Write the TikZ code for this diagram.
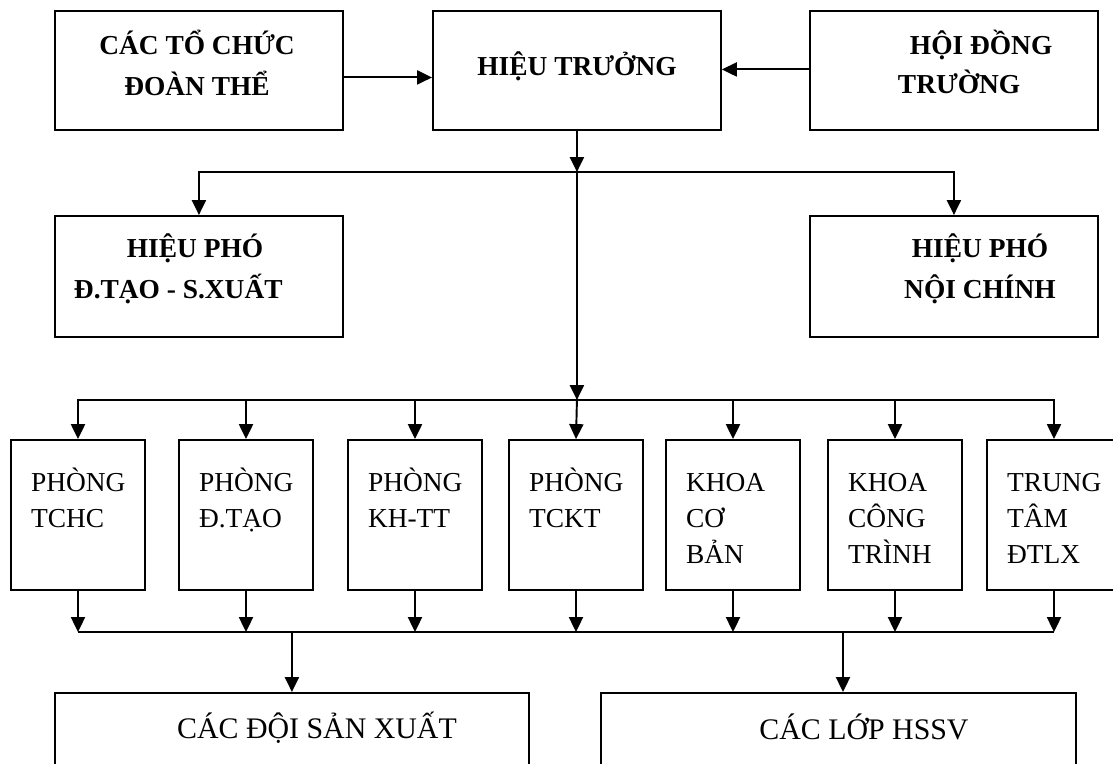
\documentclass[tikz,border=0pt]{standalone}
\usepackage{fontspec}
\setmainfont{Liberation Serif}
\usetikzlibrary{positioning,arrows.meta,calc}

\begin{document}
\begin{tikzpicture}[
      x=0.02cm, y=-0.02cm,
      font=\fontsize{15.6}{20.5}\selectfont,
      line width=1.1pt,
      box/.style={draw, minimum width=5.76cm, minimum height=2.38cm, inner sep=0pt, anchor=north west},
      unit/.style={draw, minimum width=2.68cm, minimum height=3cm, inner sep=0pt},
      lbl/.style={inner sep=0pt, font=\fontsize{15.6}{20.5}\selectfont\bfseries},
      txt/.style={inner sep=0pt, anchor=base west, text width=2.4cm, align=left},
      big/.style={inner sep=0pt, anchor=base, font=\fontsize{17}{20.5}\selectfont},
      arrow/.style={-{Triangle[length=8.5pt, width=8pt]}},
    ]
      \useasboundingbox (0,0) rectangle (1113,764);

      \node[box] (doan) at (54,10) {};
      \node[box] (ht) at (432,10) {};
      \node[box] (hdt) at (809,10) {};
      \node[box, minimum height=2.42cm] (hpdt) at (54,215) {};
      \node[box, minimum height=2.42cm] (hpnc) at (809,215) {};

      \node[lbl, anchor=base] (doan1) at (197,54) {CÁC TỔ CHỨC};
      \node[lbl, anchor=base] (doan2) at (197,95) {ĐOÀN THỂ};
      \node[lbl, anchor=base] (ht1) at (577,75) {HIỆU TRƯỞNG};
      \node[lbl, anchor=base west] (hdt1) at (909,54) {HỘI ĐỒNG};
      \node[lbl, anchor=base west] (hdt2) at (897,93) {TRƯỜNG};
      \node[lbl, anchor=base] (hpdt1) at (195,257) {HIỆU PHÓ};
      \node[lbl, anchor=base west] (hpdt2) at (73,298) {Đ.TẠO - S.XUẤT};
      \node[lbl, anchor=base] (hpnc1) at (980,257) {HIỆU PHÓ};
      \node[lbl, anchor=base] (hpnc2) at (980,298) {NỘI CHÍNH};

      \node[unit] (tchc) at (78,515) {};
      \node[unit] (dtao) at (246,515) {};
      \node[unit] (khtt) at (415,515) {};
      \node[unit] (tckt) at (576,515) {};
      \node[unit] (kcb) at (733,515) {};
      \node[unit] (kct) at (895,515) {};
      \node[unit] (ttdt) at (1054,515) {};

      \node[txt] (tchc-t) at ($(tchc.north west)+(20,52)$) {PHÒNG\\TCHC};
      \node[txt] (dtao-t) at ($(dtao.north west)+(20,52)$) {PHÒNG\\Đ.TẠO};
      \node[txt] (khtt-t) at ($(khtt.north west)+(20,52)$) {PHÒNG\\KH-TT};
      \node[txt] (tckt-t) at ($(tckt.north west)+(20,52)$) {PHÒNG\\TCKT};
      \node[txt] (kcb-t) at ($(kcb.north west)+(20,52)$) {KHOA\\CƠ\\BẢN};
      \node[txt] (kct-t) at ($(kct.north west)+(20,52)$) {KHOA\\CÔNG\\TRÌNH};
      \node[txt] (ttdt-t) at ($(ttdt.north west)+(20,52)$) {TRUNG\\TÂM\\ĐTLX};

      \node[box, minimum width=9.48cm, minimum height=2.2cm] (doi) at (54,692) {};
      \node[box, minimum width=9.5cm, minimum height=2.2cm] (lop) at (600,692) {};
      \node[big] (doi-t) at (317,738) {CÁC ĐỘI SẢN XUẤT};
      \node[big] (lop-t) at (864,739) {CÁC LỚP HSSV};

      \coordinate (b1) at (ht.south |- 0,172);
      \coordinate (b2) at (ht.south |- 0,400);
      \coordinate (b3) at (0,632);
      \coordinate (b3r) at (843,632);

      \draw[arrow] ($(doan.east)+(0,7)$) -- ($(ht.west)+(0,7)$);
      \draw[arrow] ($(hdt.west)+(0,-1)$) -- ($(ht.east)+(0,-1)$);
      \draw[arrow] (ht.south) -- (b1);
      \draw[arrow] (b1) -| (hpdt.north);
      \draw[arrow] (b1) -| (hpnc.north);
      \draw[arrow] (b1) -- (b2);

      \draw[arrow] (b2) -| (tchc.north);
      \draw[arrow] (b2) -| (ttdt.north);
      \draw[arrow] (dtao.north |- b2) -- (dtao.north);
      \draw[arrow] (khtt.north |- b2) -- (khtt.north);
      \draw[arrow] (b2) -- (tckt.north);
      \draw[arrow] (kcb.north |- b2) -- (kcb.north);
      \draw[arrow] (kct.north |- b2) -- (kct.north);

      \draw (tchc.south |- b3) -- (ttdt.south |- b3);
      \draw[arrow] (tchc.south) -- (tchc.south |- b3);
      \draw[arrow] (dtao.south) -- (dtao.south |- b3);
      \draw[arrow] (khtt.south) -- (khtt.south |- b3);
      \draw[arrow] (tckt.south) -- (tckt.south |- b3);
      \draw[arrow] (kcb.south) -- (kcb.south |- b3);
      \draw[arrow] (kct.south) -- (kct.south |- b3);
      \draw[arrow] (ttdt.south) -- (ttdt.south |- b3);
      \draw[arrow] (doi.north |- b3) -- (doi.north);
      \draw[arrow] (b3r) -- (b3r |- lop.north);
    \end{tikzpicture}
\end{document}
